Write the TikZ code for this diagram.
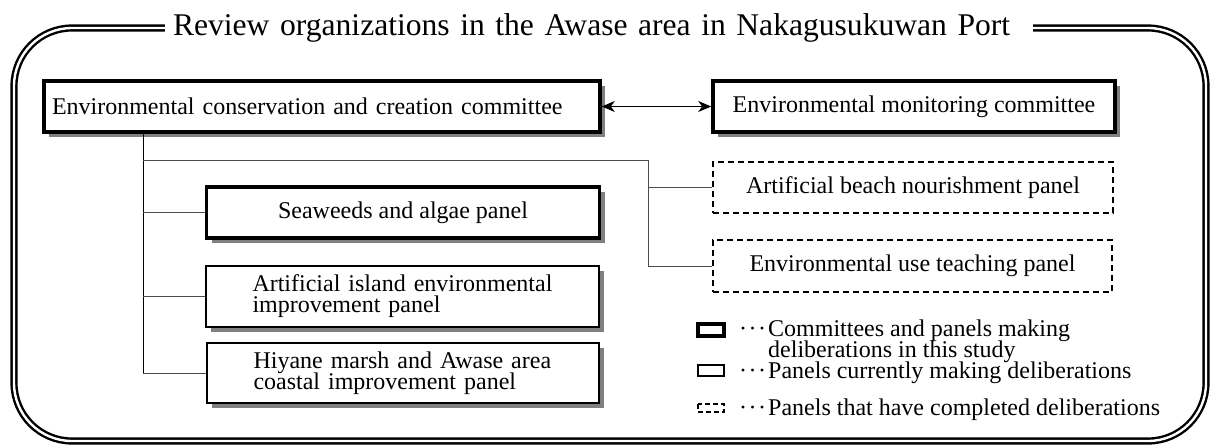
\documentclass[tikz,border=0pt]{standalone}
\usepackage{fontspec}
\setmainfont{Liberation Serif}
\usetikzlibrary{shadows,arrows.meta}
\newcommand{\mydots}{\textperiodcentered\kern1.5pt\textperiodcentered\kern1.5pt\textperiodcentered\kern2pt}
\newcommand{\tightls}{\lineskiplimit -50pt\relax}
\tikzset{
  every node/.style={font=\fontsize{24}{24}\selectfont, inner sep=0pt},
  shad/.style={drop shadow={shadow xshift=5pt,shadow yshift=-5pt,fill=black!50,opacity=1}},
  thickbox/.style={draw, line width=3.6pt, fill=white, shad},
  thinbox/.style={draw, line width=2pt, fill=white, shad},
  dashbox/.style={draw, line width=1.8pt, dash pattern=on 6pt off 4pt},
  conn/.style={line width=1pt, black!70},
  trunk/.style={line width=1pt, black},
  frame/.style={line width=2.4pt, double=white, double distance=2.4pt, rounded corners=58pt},
}
\begin{document}
\begin{tikzpicture}[x=1pt,y=-1pt]
\useasboundingbox (0,0) rectangle (1213,447);
% outer frame
\draw[frame] (14,28) rectangle (1206,441);
\node[fill=white, inner xsep=8pt, inner ysep=6pt, text width=852pt, align=left,
      font=\fontsize{31.6}{32}\selectfont] (title) at (599,28) {Review organizations in the Awase area in Nakagusukuwan Port};

% committees
\node[thickbox, minimum width=556pt, minimum height=51pt, text width=540pt, align=left] (c1) at (322,106.5) {Environmental conservation and creation committee};
\node[thickbox, minimum width=402pt, minimum height=51pt] (c2) at (914,106.5) {Environmental monitoring committee};
\draw[line width=1pt, {Stealth[length=13pt,width=11pt,inset=4pt]}-{Stealth[length=13pt,width=11pt,inset=4pt]}] (c1.east) -- (c2.west);

% dashed panels
\node[dashbox, minimum width=400pt, minimum height=51pt] (b1) at (913,187.5) {Artificial beach nourishment panel};
\node[dashbox, minimum width=399pt, minimum height=52pt] (b2) at (912.5,266) {Environmental use teaching panel};

% left panels
\node[thickbox, minimum width=393pt, minimum height=51pt] (p1) at (403,212.5) {Seaweeds and algae panel};
\node[thinbox, minimum width=393pt, minimum height=61pt, text width=300pt, align=left, font=\fontsize{24}{21}\selectfont\tightls] (p2) at (402.5,296.5) {Artificial island environmental\\improvement panel};
\node[thinbox, minimum width=392pt, minimum height=60pt, text width=298pt, align=left, font=\fontsize{24}{21}\selectfont\tightls] (p3) at (402.5,373) {Hiyane marsh and Awase area\\coastal improvement panel};

% connectors
\coordinate (t0) at (143,0);
\coordinate (j1) at (143,160);
\coordinate (j2) at (648,160);
\draw[trunk] (c1.south -| t0) -- (p3.west -| t0);
\draw[conn] (j1) -- (j2) -- (j2 |- b2.west) -- (b2.west);
\draw[conn] (j2 |- b1.west) -- (b1.west);
\draw[conn] (p1.west -| t0) -- (p1.west);
\draw[conn] (p2.west -| t0) -- (p2.west);
\draw[conn] (p3.west -| t0) -- (p3.west);

% legend
\draw[line width=3.2pt] (698,324) rectangle (724,336);
\draw[line width=1.6pt] (698,365) rectangle (724,376);
\draw[line width=1.4pt, dash pattern=on 5pt off 3pt] (698,404) rectangle (724,412);
\node[anchor=base west, align=left, font=\fontsize{24}{21}\selectfont\tightls] (l1) at (739,357) {\mydots Committees and panels making\\\hphantom{\mydots}deliberations in this study};
\node[anchor=base west] (l2) at (739,378) {\mydots Panels currently making deliberations};
\node[anchor=base west] (l3) at (739,415) {\mydots Panels that have completed deliberations};
\end{tikzpicture}
\end{document}
